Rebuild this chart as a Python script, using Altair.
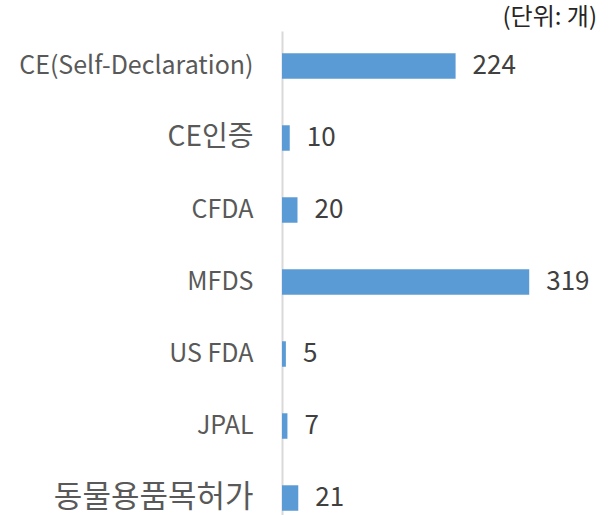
import altair as alt
import pandas as pd

categories = ["CE(Self-Declaration)", "CE인증", "CFDA", "MFDS", "US FDA", "JPAL", "동물용품목허가"]
values = [224, 10, 20, 319, 5, 7, 21]
unit_label = "(단위: 개)"

df = pd.DataFrame({"category": categories, "value": values})

FONT = "Noto Sans CJK KR"

label_size = {
    "condition": [
        {"test": "datum.value === '동물용품목허가'", "value": 31},
        {"test": "datum.value === 'CE인증'", "value": 28},
    ],
    "value": 25,
}

base = alt.Chart(df).encode(
    y=alt.Y(
        "category:N",
        sort=categories,
        title=None,
        scale=alt.Scale(paddingInner=0.646, paddingOuter=0.184, align=0.84),
        axis=alt.Axis(
            ticks=False,
            domain=True,
            domainColor="#d9d9d9",
            domainWidth=2,
            labelFont=FONT,
            labelFontSize=label_size,
            labelColor="#595959",
            labelPadding=29,
            labelLimit=400,
            grid=False,
        ),
    ),
    x=alt.X(
        "value:Q",
        scale=alt.Scale(domain=[0, 400]),
        axis=None,
    ),
)

bars = base.mark_bar(color="#5b9bd5")
labels = base.mark_text(
    align="left", baseline="middle", dx=17, font=FONT, fontSize=26, color="#404040"
).encode(text="value:Q")

chart = (
    (bars + labels)
    .properties(
        width=310,
        height=484,
        title=alt.TitleParams(
            unit_label,
            anchor="end",
            dx=5,
            offset=1,
            font=FONT,
            fontSize=24,
            fontWeight="normal",
            color="#262626",
        ),
        autosize=alt.AutoSizeParams(type="none"),
        padding={"left": 282, "top": 31, "right": 23, "bottom": 0},
    )
    .configure_view(stroke=None)
)

chart.save("out.html", embed_options={"renderer": "svg", "actions": False})
